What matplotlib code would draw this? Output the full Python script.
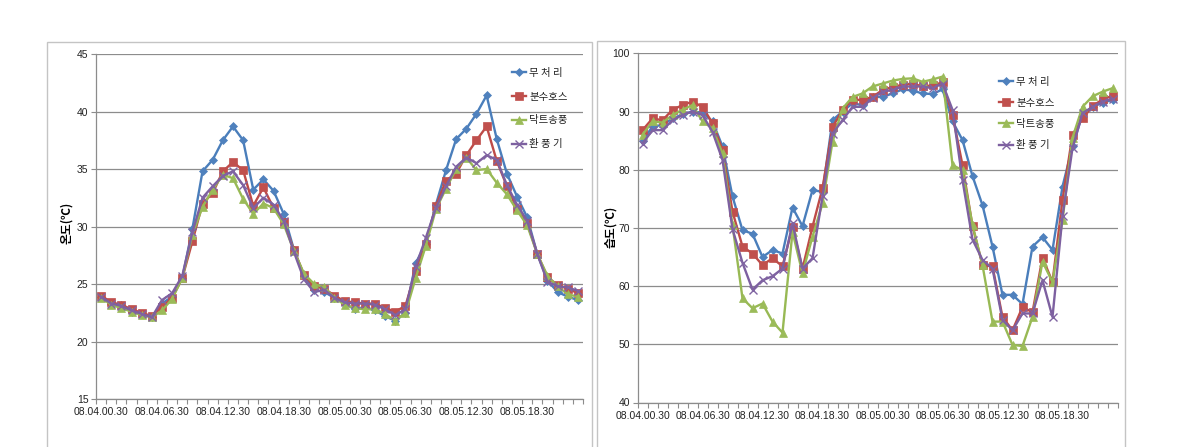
import matplotlib
matplotlib.use('Agg')
import matplotlib.pyplot as plt
from matplotlib import font_manager
from matplotlib.patches import Rectangle
import numpy as np

# ---------------- data ----------------
times = [f"08.{d:02d}.{h:02d}.30" for d in (4, 5) for h in range(24)]
label_every = 6

series_names = ["무 처 리", "분수호스", "닥트송풍", "환 풍 기"]

temp_control = [23.9, 23.3, 23.2, 22.6, 22.4, 22.1, 23.3, 23.9, 25.5, 29.8, 34.8, 35.8,
                37.5, 38.7, 37.5, 33.2, 34.1, 33.1, 31.1, 28.0, 25.7, 24.5, 24.3, 23.8,
                23.3, 22.8, 23.0, 22.7, 22.2, 21.8, 22.5, 26.8, 28.5, 31.9, 34.9, 37.6,
                38.5, 39.8, 41.4, 37.6, 34.6, 32.6, 30.8, 27.6, 25.3, 24.3, 23.9, 23.6]
temp_hose = [24.0, 23.4, 23.2, 22.8, 22.5, 22.2, 23.0, 23.8, 25.5, 28.7, 32.0, 32.9,
             34.8, 35.6, 34.9, 31.8, 33.4, 31.6, 30.4, 28.0, 25.8, 24.8, 24.6, 24.0,
             23.5, 23.4, 23.3, 23.3, 22.9, 22.6, 23.1, 26.1, 28.5, 31.8, 34.0, 34.6,
             36.2, 37.5, 38.7, 35.7, 33.5, 31.5, 30.3, 27.6, 25.6, 24.9, 24.6, 24.2]
temp_duct = [23.8, 23.2, 22.9, 22.6, 22.3, 22.1, 22.7, 23.7, 25.5, 29.3, 31.7, 33.2,
             34.5, 34.2, 32.4, 31.1, 32.0, 31.6, 30.2, 27.9, 25.9, 25.0, 24.7, 23.8,
             23.2, 22.9, 22.8, 22.8, 22.4, 21.8, 22.5, 25.5, 28.3, 31.5, 33.3, 35.0,
             36.0, 34.9, 35.0, 33.8, 32.8, 31.4, 30.1, 27.6, 25.7, 24.8, 24.1, 23.9]
temp_fan = [23.9, 23.3, 23.1, 22.7, 22.4, 22.1, 23.6, 24.2, 25.7, 29.5, 32.5, 33.5,
            34.4, 34.8, 33.6, 31.6, 32.5, 31.9, 30.5, 27.8, 25.4, 24.3, 24.5, 23.8,
            23.4, 23.3, 23.3, 23.2, 22.8, 22.3, 22.8, 26.5, 29.0, 31.6, 33.5, 35.2,
            36.0, 35.5, 36.2, 35.8, 33.6, 31.9, 30.5, 27.6, 25.2, 24.8, 24.7, 24.4]

hum_control = [85.0, 87.4, 87.7, 88.8, 89.5, 90.0, 89.8, 88.3, 84.0, 75.4, 69.6, 69.0,
               65.0, 66.2, 65.6, 73.5, 70.3, 76.5, 76.2, 88.5, 90.0, 91.4, 91.1, 92.5,
               92.5, 93.1, 93.8, 93.6, 93.1, 93.0, 93.8, 88.3, 85.1, 78.9, 73.9, 66.8,
               58.5, 58.5, 56.9, 66.8, 68.4, 66.2, 77.1, 84.0, 89.5, 90.8, 91.5, 92.0]
hum_hose = [86.8, 88.8, 88.5, 90.3, 91.1, 91.7, 90.8, 88.0, 83.4, 72.8, 66.8, 65.6,
            63.6, 64.8, 63.4, 70.2, 63.0, 70.2, 76.8, 87.3, 90.3, 92.0, 92.0, 92.5,
            93.7, 94.2, 94.6, 94.8, 94.3, 94.5, 95.0, 89.4, 80.8, 70.3, 63.6, 63.4,
            54.7, 52.4, 56.4, 55.5, 64.9, 60.7, 74.8, 86.0, 88.8, 90.9, 92.1, 92.7]
hum_duct = [86.0, 88.3, 88.1, 89.4, 90.3, 91.1, 88.3, 87.1, 82.8, 70.5, 57.9, 56.2,
            57.0, 53.9, 52.0, 69.3, 62.2, 68.5, 74.2, 84.8, 90.5, 92.5, 93.1, 94.3,
            94.8, 95.3, 95.6, 95.7, 95.1, 95.5, 96.0, 80.8, 79.9, 70.5, 63.6, 53.9,
            53.9, 49.9, 49.7, 54.7, 64.2, 60.7, 71.3, 85.5, 90.8, 92.6, 93.4, 94.0]
hum_fan = [84.5, 86.8, 86.8, 88.5, 89.4, 90.0, 89.4, 86.5, 81.7, 69.8, 64.0, 59.4,
           61.0, 61.7, 63.0, 70.8, 63.0, 64.8, 75.4, 86.2, 88.5, 90.8, 90.8, 92.3,
           93.4, 93.7, 94.3, 94.3, 94.3, 94.0, 94.8, 90.3, 78.2, 68.0, 64.5, 63.0,
           54.2, 52.4, 55.3, 55.3, 61.0, 54.7, 72.0, 83.7, 89.7, 90.8, 91.7, 92.2]

temp_ylabel = "온도(℃)"
hum_ylabel = "습도(℃)"

# ---------------- style ----------------
line_colors = ["#4A7EBB", "#BE4B48", "#98B954", "#7D60A0"]
marker_colors = ["#4F81BD", "#C0504D", "#9BBB59", "#8064A2"]
markers = ["D", "s", "^", "x"]
msizes = [4.2, 6.0, 6.0, 5.5]

avail = {f.name for f in font_manager.fontManager.ttflist}
num_font = "Liberation Sans Narrow" if "Liberation Sans Narrow" in avail else "Liberation Sans"
kr_font = "Noto Sans CJK KR"
plt.rcParams['font.family'] = [num_font, kr_font, 'DejaVu Sans']

W, H = 1184, 447
fig = plt.figure(figsize=(W / 100, H / 100), dpi=100)

def fy(py):
    return 1 - py / H

# chart frames
fig.patches.append(Rectangle((47 / W, -0.05), (592 - 47) / W, (H - 42) / H + 0.05,
                             transform=fig.transFigure, fill=False, edgecolor="#c4c4c4", lw=1.0))
fig.patches.append(Rectangle((597 / W, -0.05), (1125 - 597) / W, (H - 41) / H + 0.05,
                             transform=fig.transFigure, fill=False, edgecolor="#c4c4c4", lw=1.0))

ax1 = fig.add_axes([96 / W, fy(399), (583 - 96) / W, (399 - 54) / H])
ax2 = fig.add_axes([637.5 / W, fy(402.5), 480 / W, (402.5 - 53.3) / H])

x = np.arange(len(times))
grid_c = "#8c8c8c"

def style(ax, ylim, ystep, data, ylabel, ylabel_xy, leg_anchor, leg_spacing):
    for vals, lc, mc, mk, ms, name in zip(data, line_colors, marker_colors, markers, msizes, series_names):
        ax.plot(x, vals, color=lc, lw=1.7, marker=mk, ms=ms, markerfacecolor=mc,
                markeredgecolor=mc, markeredgewidth=1.0 if mk == 'x' else 0.5, label=name)
    ax.set_xlim(-0.5, len(times) - 0.5)
    ax.set_ylim(*ylim)
    ax.set_yticks(np.arange(ylim[0], ylim[1] + 0.1, ystep))
    ax.set_yticklabels([f"{v:g}" for v in np.arange(ylim[0], ylim[1] + 0.1, ystep)], fontsize=7.5)
    ax.yaxis.grid(True, color=grid_c, lw=0.9)
    ax.set_axisbelow(True)
    ax.set_xticks(x[::label_every])
    ax.set_xticklabels(times[::label_every], fontsize=7.5, color="#222222")
    ax.set_xticks(np.arange(-0.5, len(times), 1), minor=True)
    ax.tick_params(axis='x', which='major', length=0, pad=6)
    ax.tick_params(axis='x', which='minor', length=3.5, color=grid_c, width=0.8)
    ax.tick_params(axis='y', length=3.5, color=grid_c, width=0.8, pad=2, labelcolor="#222222")
    for s in ('top', 'right'):
        ax.spines[s].set_visible(False)
    for s in ('left', 'bottom'):
        ax.spines[s].set_color(grid_c)
        ax.spines[s].set_linewidth(0.9)
    fig.text(ylabel_xy[0] / W, fy(ylabel_xy[1]), ylabel, rotation=90, ha='center', va='center',
             fontsize=8.5, fontweight='bold', family=[kr_font, 'DejaVu Sans'])
    ax.legend(loc='upper left', bbox_to_anchor=(leg_anchor[0] / W, fy(leg_anchor[1])),
              bbox_transform=fig.transFigure, frameon=False, borderpad=0, borderaxespad=0,
              handlelength=1.35, handletextpad=0.3, labelspacing=leg_spacing, numpoints=1,
              prop={'family': [kr_font], 'size': 7.5}, labelcolor="#222222")

style(ax1, (15, 45), 5, [temp_control, temp_hose, temp_duct, temp_fan], temp_ylabel, (67, 223),
      (512, 68), 1.32)
style(ax2, (40, 100), 10, [hum_control, hum_hose, hum_duct, hum_fan], hum_ylabel, (611, 227),
      (999, 77), 1.06)

fig.savefig("out.png", dpi=100)
